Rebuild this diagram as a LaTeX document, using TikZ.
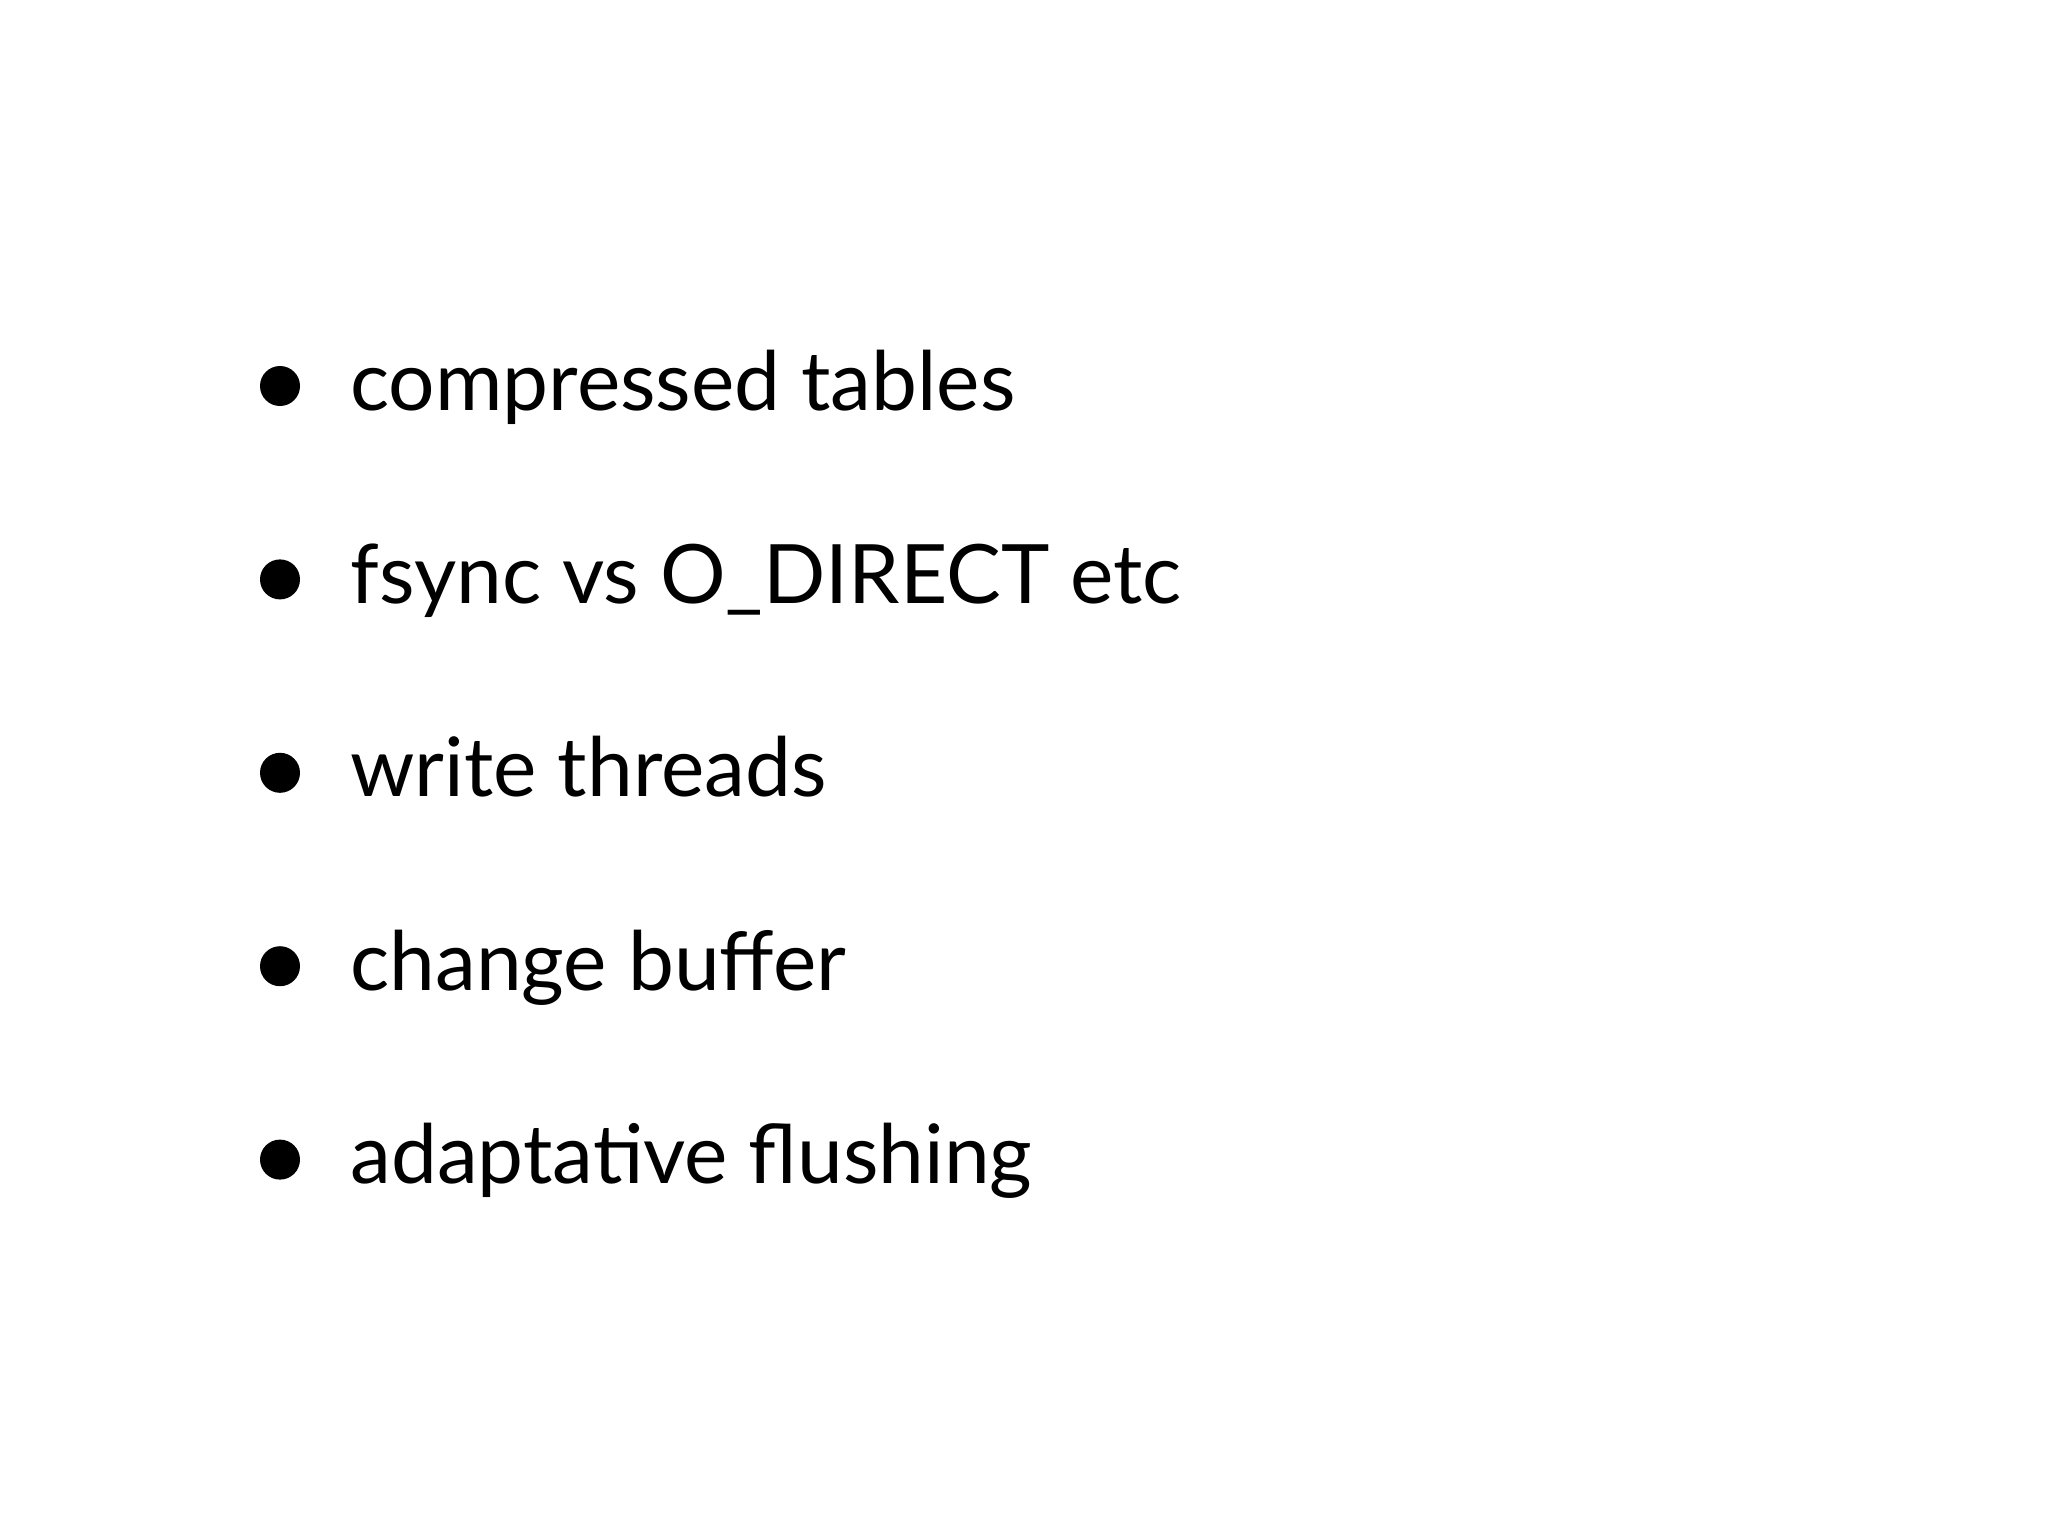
\documentclass[tikz,border=0pt]{standalone}
\usepackage{fontspec}
\setmainfont{Lato}
\begin{document}
\begin{tikzpicture}[x=1pt,y=-1pt,
  item/.style={anchor=base west,inner sep=0pt,font=\fontsize{41}{48}\selectfont},
  dot/.style={circle,fill=black,minimum size=20pt,inner sep=0pt}]
\useasboundingbox[fill=white] (0,0) rectangle (1024,768);
\foreach \t [count=\i] in {compressed tables,fsync vs O\_DIRECT etc,write threads,change buffer,adaptative flushing}{
  \pgfmathsetmacro\yy{205+96.7*(\i-1)}
  \node[item] (t\i) at (175,\yy) {\t};
  \node[dot] (b\i) at (140,\yy-12) {};
}
\end{tikzpicture}
\end{document}
